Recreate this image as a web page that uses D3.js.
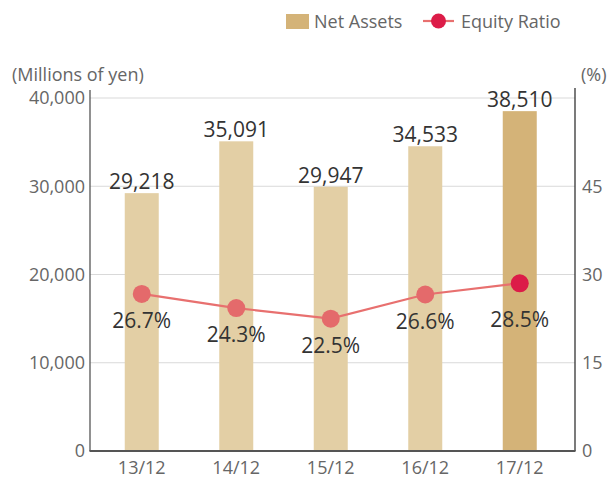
<!DOCTYPE html>
<html><head><meta charset="utf-8">
<script src="https://cdn.jsdelivr.net/npm/d3@7"></script>
<style>body{margin:0;background:#fff}svg{display:block}text{font-family:"Open Sans",sans-serif}</style>
</head><body><svg id="c" width="611" height="481"></svg>
<script>
const categories = ["13/12","14/12","15/12","16/12","17/12"];
const netAssets = [29218, 35091, 29947, 34533, 38510];
const equityRatio = [26.7, 24.3, 22.5, 26.6, 28.5];
const leftTicks = [0, 10000, 20000, 30000, 40000];
const rightTicks = [0, 15, 30, 45];

const svg = d3.select("#c");
const L = 90, R = 575, T = 98, B = 451;
const x = d3.scaleBand().domain(categories).range([94.5, 567]);
const yL = d3.scaleLinear().domain([0, 40000]).range([B, T]);
const yR = d3.scaleLinear().domain([0, 60]).range([B, T]);
const barW = 34;

// gridlines
svg.append("g").selectAll("line").data(leftTicks.slice(1)).join("line")
  .attr("x1", L).attr("x2", R).attr("y1", d => yL(d)).attr("y2", d => yL(d))
  .attr("stroke", "#d9d9d9").attr("stroke-width", 1.2);

// bars
svg.append("g").selectAll("rect").data(netAssets).join("rect")
  .attr("x", (d, i) => x(categories[i]) + x.bandwidth() / 2 - barW / 2)
  .attr("width", barW)
  .attr("y", d => yL(d)).attr("height", d => B - yL(d))
  .attr("fill", (d, i) => i === netAssets.length - 1 ? "#D4B378" : "#E3CFA5");

// bar labels
svg.append("g").selectAll("text").data(netAssets).join("text")
  .attr("x", (d, i) => x(categories[i]) + x.bandwidth() / 2)
  .attr("y", d => yL(d) - 4)
  .attr("text-anchor", "middle").attr("font-size", 21).attr("fill", "#333")
  .text(d => d3.format(",")(d));

// axes lines
const axisG = svg.append("g");
axisG.append("line").attr("x1", L).attr("x2", L).attr("y1", 90).attr("y2", B).attr("stroke", "#555").attr("stroke-width", 1.3);
axisG.append("line").attr("x1", R).attr("x2", R).attr("y1", 88).attr("y2", B).attr("stroke", "#333").attr("stroke-width", 1.3);
axisG.append("line").attr("x1", L - 0.5).attr("x2", R + 0.5).attr("y1", B).attr("y2", B).attr("stroke", "#555").attr("stroke-width", 2);

// left tick labels
svg.append("g").selectAll("text").data(leftTicks).join("text")
  .attr("x", 85).attr("y", d => yL(d)).attr("dy", "0.35em")
  .attr("text-anchor", "end").attr("font-size", 18).attr("fill", "#666")
  .text(d => d3.format(",")(d));
// right tick labels
svg.append("g").selectAll("text").data(rightTicks).join("text")
  .attr("x", 582).attr("y", d => yR(d)).attr("dy", "0.35em")
  .attr("text-anchor", "start").attr("font-size", 18).attr("fill", "#666")
  .text(d => d);
// x labels
svg.append("g").selectAll("text").data(categories).join("text")
  .attr("x", d => x(d) + x.bandwidth() / 2).attr("y", 474)
  .attr("text-anchor", "middle").attr("font-size", 18).attr("fill", "#666")
  .text(d => d);

// axis titles
svg.append("text").attr("x", 12).attr("y", 81).attr("font-size", 18).attr("fill", "#666").text("(Millions of yen)");
svg.append("text").attr("x", 581).attr("y", 81).attr("font-size", 18).attr("fill", "#666").text("(%)");

// line
const line = d3.line().x((d, i) => x(categories[i]) + x.bandwidth() / 2).y(d => yR(d));
svg.append("path").datum(equityRatio).attr("d", line).attr("fill", "none")
  .attr("stroke", "#E8706F").attr("stroke-width", 2.2);
svg.append("g").selectAll("circle").data(equityRatio).join("circle")
  .attr("cx", (d, i) => x(categories[i]) + x.bandwidth() / 2).attr("cy", d => yR(d)).attr("r", 9)
  .attr("fill", (d, i) => i === equityRatio.length - 1 ? "#DC1C48" : "#E46A6B");
svg.append("g").selectAll("text").data(equityRatio).join("text")
  .attr("x", (d, i) => x(categories[i]) + x.bandwidth() / 2)
  .attr("y", (d, i) => yR(d) + (i === equityRatio.length - 1 ? 44 : 34))
  .attr("text-anchor", "middle").attr("font-size", 21).attr("fill", "#333")
  .text(d => d.toFixed(1) + "%");

// legend
const lg = svg.append("g");
lg.append("rect").attr("x", 286).attr("y", 14).attr("width", 23).attr("height", 15).attr("fill", "#D4B378");
lg.append("text").attr("x", 314).attr("y", 28).attr("font-size", 18).attr("fill", "#666").text("Net Assets");
lg.append("line").attr("x1", 423).attr("x2", 454).attr("y1", 21).attr("y2", 21).attr("stroke", "#E8706F").attr("stroke-width", 2.2);
lg.append("circle").attr("cx", 438.5).attr("cy", 21).attr("r", 7.5).attr("fill", "#DC1C48");
lg.append("text").attr("x", 461).attr("y", 28).attr("font-size", 18).attr("fill", "#666").text("Equity Ratio");
</script></body></html>
